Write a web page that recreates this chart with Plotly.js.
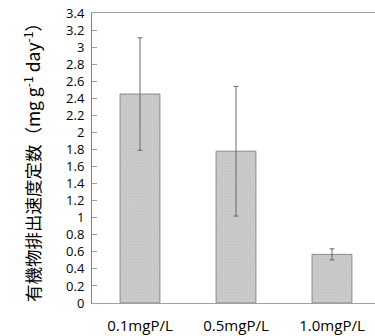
<!DOCTYPE html>
<html>
<head>
<meta charset="utf-8">
<script src="https://cdn.plot.ly/plotly-3.0.1.min.js"></script>
<style>html,body{margin:0;padding:0;background:#fff;}#chart{width:375px;height:336px;}</style>
</head>
<body>
<div id="chart"></div>
<script>
var categories = ["0.1mgP/L", "0.5mgP/L", "1.0mgP/L"];
var rates = [2.45, 1.78, 0.57];
var errors = [0.66, 0.76, 0.065];
var yTickVals = [0,0.2,0.4,0.6,0.8,1,1.2,1.4,1.6,1.8,2,2.2,2.4,2.6,2.8,3,3.2,3.4];
var yTickText = ["0","0.2","0.4","0.6","0.8","1","1.2","1.4","1.6","1.8","2","2.2","2.4","2.6","2.8","3","3.2","3.4"];
var yTitle = "有機物排出速度定数（mg g<sup>-1</sup> day<sup>-1</sup>）";

var trace = {
  type: "bar",
  x: [0, 1, 2],
  y: rates,
  width: 0.415,
  marker: {
    color: "#d0d0d0",
    line: {color: "#8a8a8a", width: 1},
    pattern: {shape: "x", size: 2, solidity: 0.4, fgcolor: "#a8a8a8", bgcolor: "#d6d6d6", fillmode: "replace"}
  },
  error_y: {type: "data", array: errors, visible: true, color: "#666666", thickness: 1, width: 2.5},
  hoverinfo: "none"
};

var layout = {
  width: 375, height: 336,
  margin: {l: 92, r: 0, t: 13, b: 33},
  paper_bgcolor: "#ffffff", plot_bgcolor: "#ffffff",
  showlegend: false,
  font: {family: "Noto Sans CJK JP, Noto Sans, sans-serif", color: "#000"},
  xaxis: {
    range: [-0.5, 2.448],
    tickvals: [0, 1, 2], ticktext: categories,
    showgrid: false, zeroline: false,
    showline: true, linecolor: "#a0a0a0", linewidth: 1, mirror: true,
    ticks: "",
    ticklabelstandoff: 9,
    tickfont: {family: "Open Sans, sans-serif", size: 15, color: "#000"},
    fixedrange: true
  },
  yaxis: {
    range: [0, 3.4],
    tickvals: yTickVals, ticktext: yTickText,
    showgrid: false, zeroline: false,
    showline: true, linecolor: "#808080", linewidth: 1,
    ticks: "inside", ticklen: 5, tickcolor: "#a0a0a0",
    ticklabelstandoff: 4,
    tickfont: {family: "Open Sans, sans-serif", size: 13, color: "#000"},
    title: {text: yTitle, font: {family: "Noto Sans CJK JP, sans-serif", size: 17.5, color: "#000"}, standoff: 20},
    automargin: false,
    fixedrange: true
  }
};

Plotly.newPlot("chart", [trace], layout, {displayModeBar: false, staticPlot: true});
</script>
</body>
</html>
